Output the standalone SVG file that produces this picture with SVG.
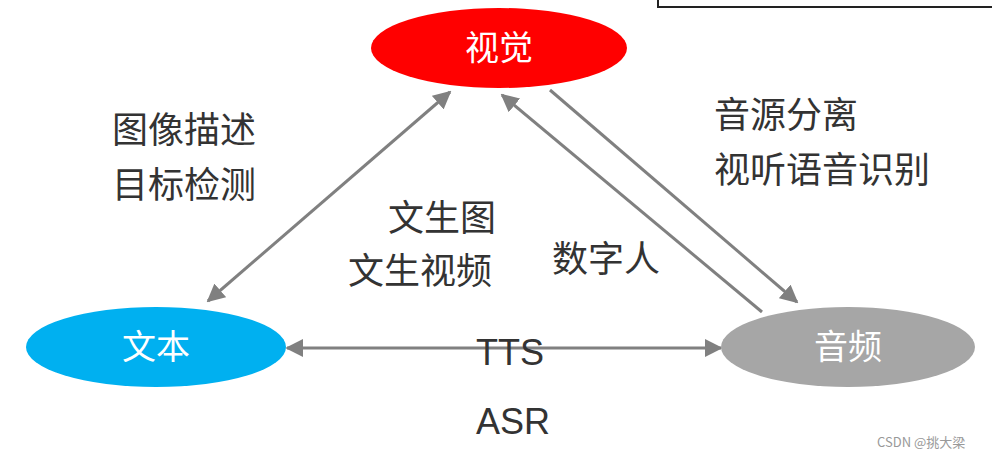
<svg xmlns="http://www.w3.org/2000/svg" width="992" height="458" viewBox="0 0 992 458">
<style>
.t{font-family:"Noto Sans CJK SC","Liberation Sans",sans-serif;font-size:36px;fill:#333}
.n{font-family:"Noto Sans CJK SC","Liberation Sans",sans-serif;font-size:34px;fill:#fff;text-anchor:middle}
.c{stroke:#808080;stroke-width:3;fill:none}
</style>
<defs>
<marker id="a" viewBox="0 0 10 10" refX="9" refY="5" markerWidth="6" markerHeight="6" orient="auto-start-reverse" markerUnits="strokeWidth"><path d="M0,0L10,5L0,10z" fill="#808080"/></marker>
</defs>
<rect width="992" height="458" fill="#fff"/>
<path d="M658,0V7H992" fill="none" stroke="#222" stroke-width="2"/>
<g id="connectors">
<line class="c" x1="208" y1="301" x2="450" y2="92" marker-start="url(#a)" marker-end="url(#a)"/>
<line class="c" x1="550" y1="90" x2="797" y2="302" marker-end="url(#a)"/>
<line class="c" x1="762" y1="312" x2="502" y2="95" marker-end="url(#a)"/>
<line class="c" x1="287" y1="348" x2="721" y2="348" marker-start="url(#a)" marker-end="url(#a)"/>
</g>
<g id="visual"><ellipse cx="499" cy="48" rx="128" ry="40" fill="#ff0000"/><text class="n" x="499" y="60">视觉</text></g>
<g id="text"><ellipse cx="156" cy="347" rx="130" ry="40" fill="#00b0f0"/><text class="n" x="156" y="359">文本</text></g>
<g id="audio"><ellipse cx="848" cy="347" rx="127" ry="40" fill="#a6a6a6"/><text class="n" x="848" y="359">音频</text></g>
<g id="labels">
<text class="t" x="112" y="143">图像描述</text>
<text class="t" x="112" y="198">目标检测</text>
<text class="t" x="388" y="231">文生图</text>
<text class="t" x="348" y="284">文生视频</text>
<text class="t" x="552" y="272">数字人</text>
<text class="t" x="714" y="128">音源分离</text>
<text class="t" x="714" y="183">视听语音识别</text>
<text class="t" x="476" y="365" style="font-family:'Liberation Sans',sans-serif">TTS</text>
<text class="t" x="476" y="434" style="font-family:'Liberation Sans',sans-serif">ASR</text>
<text x="877" y="447" style="font-family:'Noto Sans CJK SC',sans-serif;font-size:13px;fill:#999">CSDN @挑大梁</text>
</g>
</svg>
